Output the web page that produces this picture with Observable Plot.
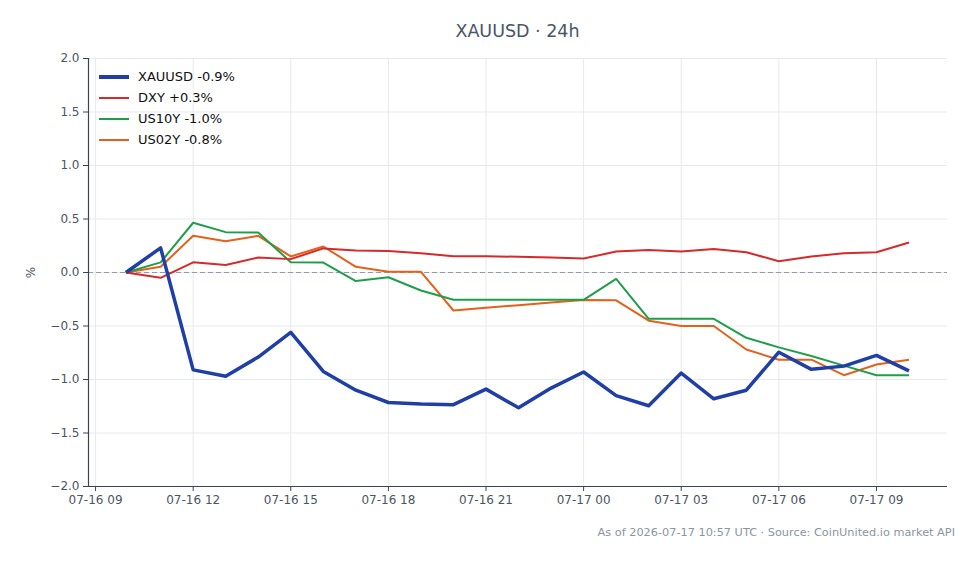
<!DOCTYPE html>
<html><head><meta charset="utf-8">
<script src="https://cdn.jsdelivr.net/npm/d3@7"></script>
<script src="https://cdn.jsdelivr.net/npm/@observablehq/plot@0.6"></script>
<style>
body{margin:0;background:#fff;font-family:"DejaVu Sans",sans-serif;}
#wrap{position:relative;width:979px;height:564px;}
#title{padding-top:20px;height:22px;line-height:22px;margin-bottom:8px;text-align:center;font-size:17.5px;color:#4a5568;padding-left:56px;}
#caption{text-align:right;padding-right:24px;padding-top:15px;line-height:16px;font-size:11.3px;color:#8a94a3;}
#legend{position:absolute;left:99px;top:66px;font-size:13px;color:#111;}
.li{height:21px;display:flex;align-items:center;}
.sw{width:30px;margin-right:9px;}
</style></head><body>
<div id="wrap">
<div id="title">XAUUSD · 24h</div>
<div id="chart"></div>
<div id="caption">As of 2026-07-17 10:57 UTC · Source: CoinUnited.io market API</div>
<div id="legend"></div>
</div>
<script>
const times = ["2026-07-16T09:56Z","2026-07-16T11:00Z","2026-07-16T12:00Z","2026-07-16T13:00Z","2026-07-16T14:00Z","2026-07-16T15:00Z","2026-07-16T16:00Z","2026-07-16T17:00Z","2026-07-16T18:00Z","2026-07-16T19:00Z","2026-07-16T20:00Z","2026-07-16T21:00Z","2026-07-16T22:00Z","2026-07-16T23:00Z","2026-07-17T00:00Z","2026-07-17T01:00Z","2026-07-17T02:00Z","2026-07-17T03:00Z","2026-07-17T04:00Z","2026-07-17T05:00Z","2026-07-17T06:00Z","2026-07-17T07:00Z","2026-07-17T08:00Z","2026-07-17T09:00Z","2026-07-17T10:00Z"];
const xauusd = [0,0.23,-0.91,-0.97,-0.79,-0.56,-0.925,-1.10,-1.215,-1.23,-1.235,-1.09,-1.265,-1.08,-0.93,-1.15,-1.245,-0.94,-1.18,-1.10,-0.745,-0.905,-0.875,-0.775,-0.92];
const dxy = [0,-0.05,0.095,0.07,0.14,0.125,0.225,0.205,0.20,0.18,0.152,0.152,0.147,0.14,0.13,0.196,0.21,0.196,0.22,0.19,0.105,0.15,0.18,0.19,0.28];
const us10y = [0,0.095,0.465,0.377,0.374,0.096,0.093,-0.08,-0.044,-0.168,-0.255,-0.255,-0.255,-0.255,-0.255,-0.06,-0.433,-0.433,-0.433,-0.61,-0.70,-0.78,-0.87,-0.96,-0.96];
const us02y = [0,0.053,0.343,0.293,0.343,0.15,0.243,0.053,0.006,0.006,-0.355,-0.33,-0.305,-0.28,-0.258,-0.26,-0.45,-0.50,-0.50,-0.72,-0.815,-0.815,-0.96,-0.86,-0.815];
const seriesNames = ["XAUUSD -0.9%","DXY +0.3%","US10Y -1.0%","US02Y -0.8%"];
const seriesColors = ["#1f3fa6","#d62a2a","#1f9e4a","#e3611a"];
const seriesWidths = [3.5,2,2,2];
const seriesValues = [xauusd,dxy,us10y,us02y];
const yTicks = [-2,-1.5,-1,-0.5,0,0.5,1,1.5,2];
const xDomain = ["2026-07-16T08:47Z","2026-07-17T11:11Z"];

const parse = s => new Date(s);
const allRows = seriesValues.map((vals,k)=>vals.map((v,i)=>({t:parse(times[i]),v,k})));
const axisColor = "#3a4352";
const lineMarks = [3,2,1,0].map(k => Plot.line(allRows[k],{x:"t",y:"v",stroke:seriesColors[k],strokeWidth:seriesWidths[k],strokeLinejoin:"round",strokeLinecap:"butt"}));

const chart = Plot.plot({
  width:979, height:460,
  marginTop:8, marginBottom:24, marginLeft:88, marginRight:32,
  style:{fontFamily:"DejaVu Sans, sans-serif",fontSize:"12px",color:"#4b5563",background:"#fff"},
  x:{type:"utc",domain:xDomain.map(parse)},
  y:{domain:[-2,2]},
  marks:[
    Plot.gridX({ticks:d3.utcHour.every(3),stroke:"#e6e9ef",strokeOpacity:1}),
    Plot.gridY(yTicks,{stroke:"#e6e9ef",strokeOpacity:1}),
    Plot.ruleY([0],{stroke:"#8f9bb3",strokeDasharray:"5,3",strokeWidth:1.2}),
    ...lineMarks,
    Plot.axisX({ticks:d3.utcHour.every(3),tickFormat:d3.utcFormat("%m-%d %H"),tickSize:5,stroke:axisColor,tickPadding:4,label:null}),
    Plot.axisY(yTicks,{tickFormat:d3.format(".1f"),tickSize:5,stroke:axisColor,tickPadding:4,label:"%",labelAnchor:"center",labelOffset:62,labelArrow:"none"}),
    Plot.ruleY([-2],{stroke:axisColor,strokeWidth:1.2}),
    Plot.ruleX([parse(xDomain[0])],{stroke:axisColor,strokeWidth:1.2})
  ]
});
document.getElementById("chart").appendChild(chart);

const leg = document.getElementById("legend");
seriesNames.forEach((n,k)=>{
  const d = document.createElement("div"); d.className="li";
  const sw = document.createElement("div"); sw.className="sw";
  sw.style.height = (k===0?4:2)+"px"; sw.style.background = seriesColors[k];
  const tx = document.createElement("span"); tx.textContent = n;
  d.appendChild(sw); d.appendChild(tx); leg.appendChild(d);
});
</script>
</body></html>
